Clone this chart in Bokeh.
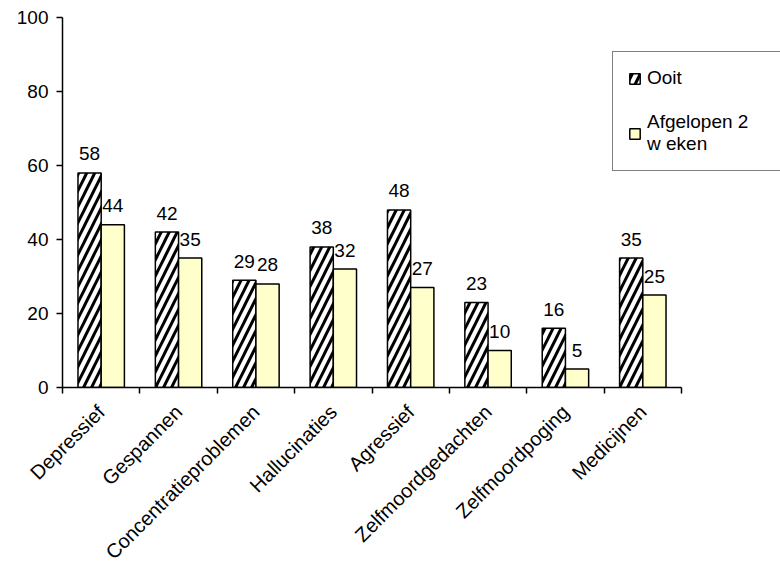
import numpy as np
from bokeh.plotting import figure
from bokeh.models import Range1d, FixedTicker, ColumnDataSource, Legend, LegendItem
from bokeh.core.properties import value
from bokeh.embed import file_html
from bokeh.resources import INLINE

categories = ["Depressief", "Gespannen", "Concentratieproblemen", "Hallucinaties",
              "Agressief", "Zelfmoordgedachten", "Zelfmoordpoging", "Medicijnen"]
ooit = [58, 42, 29, 38, 48, 23, 16, 35]
afgelopen = [44, 35, 28, 32, 27, 10, 5, 25]
y_ticks = [0, 20, 40, 60, 80, 100]
series_names = ["Ooit", "Afgelopen 2\nw eken"]

FONT = "Liberation Sans"
FS = "19px"
n = len(categories)
idx = np.arange(n)

W, H = 780, 576
left, top, bottom, right = 62, 17, 189, 0
frame_w = W - left - right
cat_w = (681 - 62) / n
x_end = frame_w / cat_w

p = figure(width=W, height=H, output_backend="svg", toolbar_location=None,
           x_range=Range1d(0, x_end), y_range=Range1d(0, 100),
           min_border_left=left, min_border_right=right,
           min_border_top=top, min_border_bottom=bottom)
p.outline_line_color = None
p.grid.visible = False
p.background_fill_color = "white"
p.border_fill_color = "white"

bw = 0.3
src1 = ColumnDataSource(dict(x=idx + 0.5 - bw / 2, top=ooit, lab=[str(v) for v in ooit]))
src2 = ColumnDataSource(dict(x=idx + 0.5 + bw / 2, top=afgelopen, lab=[str(v) for v in afgelopen]))

r1 = p.vbar(x="x", top="top", width=bw, bottom=0, source=src1,
            fill_color="white", line_color="black", line_width=1.5,
            hatch_pattern="/", hatch_color="black", hatch_scale=16, hatch_weight=3)
r2 = p.vbar(x="x", top="top", width=bw, bottom=0, source=src2,
            fill_color="#FFFFCC", line_color="black", line_width=1.5)

for s in (src1, src2):
    p.text(x="x", y="top", text="lab", source=s, text_align="center",
           text_baseline="alphabetic", y_offset=-19,
           text_font=value(FONT), text_font_size=FS, text_color="black")

# y axis
ya = p.yaxis[0]
ya.ticker = FixedTicker(ticks=y_ticks)
ya.major_tick_in = 0
ya.major_tick_out = 6
ya.minor_tick_line_color = None
ya.axis_line_width = 1.5
ya.major_tick_line_width = 1.5
ya.axis_line_color = "black"
ya.major_label_text_font = FONT
ya.major_label_text_font_size = FS
ya.major_label_text_color = "black"
ya.major_label_standoff = 8

# x axis
xa = p.xaxis[0]
centers = [float(i) + 0.5 for i in idx]
xa.ticker = FixedTicker(ticks=centers, minor_ticks=[float(i) for i in range(n + 1)])
xa.major_label_overrides = {c: name for c, name in zip(centers, categories)}
xa.bounds = (0, n)
xa.major_tick_in = 0
xa.major_tick_out = 0
xa.minor_tick_in = 0
xa.minor_tick_out = 6
xa.minor_tick_line_color = "black"
xa.minor_tick_line_width = 1.5
xa.axis_line_width = 1.5
xa.axis_line_color = "black"
xa.major_label_orientation = np.pi / 4
xa.major_label_text_font = FONT
xa.major_label_text_font_size = "20px"
xa.major_label_text_color = "black"
xa.major_label_standoff = 15

legend = Legend(items=[LegendItem(label=series_names[0], renderers=[r1]),
                       LegendItem(label=series_names[1], renderers=[r2])],
                location=(550, 216))
legend.border_line_color = "black"
legend.border_line_width = 1.5
legend.background_fill_color = "white"
legend.background_fill_alpha = 1
legend.label_text_font = FONT
legend.label_text_font_size = FS
legend.label_text_color = "black"
legend.glyph_width = 13
legend.glyph_height = 13
legend.label_standoff = 6
legend.label_width = 118
legend.padding = 15
legend.spacing = 22
legend.margin = 0
p.add_layout(legend, "center")

open("out.html", "w").write(file_html(p, INLINE))
